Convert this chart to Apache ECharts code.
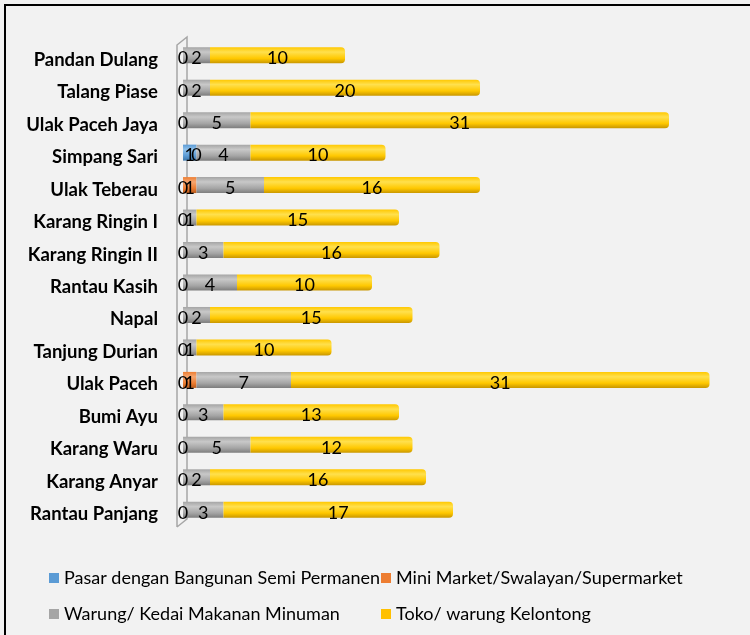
<!doctype html>
<html>
<head>
<meta charset="utf-8">
<script src="https://cdn.jsdelivr.net/npm/echarts@6/dist/echarts.min.js"></script>
<style>
    html, body { margin: 0; padding: 0; background: #f2f2f2; }
    #main { width: 750px; height: 635px; }
</style>
</head>
<body>
<div id="main"></div>
<script type="text/javascript">
    // desa (atas ke bawah)
    var desa = ['Pandan Dulang', 'Talang Piase', 'Ulak Paceh Jaya', 'Simpang Sari', 'Ulak Teberau',
        'Karang Ringin I', 'Karang Ringin II', 'Rantau Kasih', 'Napal', 'Tanjung Durian',
        'Ulak Paceh', 'Bumi Ayu', 'Karang Waru', 'Karang Anyar', 'Rantau Panjang'];

    var pasar    = [0, 0, 0, 1, 0, 0, 0, 0, 0, 0, 0, 0, 0, 0, 0];
    var minimarket = [null, null, null, 0, 1, null, null, null, null, null, 1, null, null, null, null];
    var warung   = [2, 2, 5, 4, 5, 1, 3, 4, 2, 1, 7, 3, 5, 2, 3];
    var toko     = [10, 20, 31, 10, 16, 15, 16, 10, 15, 10, 31, 13, 12, 16, 17];

    var nama = ['Pasar dengan Bangunan Semi Permanen', 'Mini Market/Swalayan/Supermarket',
        'Warung/ Kedai Makanan Minuman', 'Toko/ warung Kelontong'];
    var warnaLegend = ['#5b9bd5', '#ed7d31', '#a5a5a5', '#ffc000'];

    function silinder(terang, tengah, gelap) {
        return new echarts.graphic.LinearGradient(0, 0, 0, 1, [
            {offset: 0, color: tengah},
            {offset: 0.3, color: terang},
            {offset: 0.7, color: tengah},
            {offset: 1, color: gelap}
        ]);
    }

    var labelStyle = {
        show: true,
        position: 'inside',
        offset: [0, 3],
        color: '#000',
        fontFamily: 'Lato',
        fontSize: 18
    };

    function seri(name, data, warna, radius) {
        return {
            name: name,
            type: 'bar',
            stack: 'total',
            barWidth: 16,
            data: data,
            label: labelStyle,
            itemStyle: {color: warna, borderRadius: radius || 0},
            emphasis: {disabled: true}
        };
    }

    var myChart = echarts.init(document.getElementById('main'));
    var legendText = {fontFamily: 'Lato', fontSize: 18, color: '#000'};

    function legenda(i, left, top) {
        return {
            data: [{name: nama[i], itemStyle: {color: warnaLegend[i]}}],
            left: left, top: top,
            itemWidth: 10, itemHeight: 10, itemGap: 6, icon: 'rect',
            textStyle: legendText, selectedMode: false
        };
    }

    myChart.setOption({
        backgroundColor: '#f2f2f2',
        animation: false,
        grid: {left: 183, right: 27, top: 39, bottom: 109},
        legend: [
            legenda(0, 44, 564),
            legenda(1, 376, 564),
            legenda(2, 44, 600),
            legenda(3, 376, 600)
        ],
        xAxis: {
            type: 'value',
            min: 0,
            max: 40,
            show: false
        },
        yAxis: {
            type: 'category',
            inverse: true,
            data: desa,
            axisLine: {show: false},
            axisTick: {show: false},
            axisLabel: {
                margin: 25,
                formatter: '{a|{value}}',
                rich: {
                    a: {
                        padding: [9, 0, 0, 0],
                        color: '#000',
                        fontFamily: 'Lato',
                        fontWeight: 'bold',
                        fontSize: 18.5
                    }
                }
            }
        },
        graphic: [
            // bingkai
            {type: 'polyline', z: 0, shape: {points: [[5, 640], [5, 5], [760, 5]]},
                style: {stroke: '#000', lineWidth: 2, fill: null}},
            // dinding 3D
            {type: 'polyline', z: 0, shape: {points: [[177, 527], [177, 45], [187, 37], [187, 519], [177, 527]]},
                style: {stroke: '#a6a6a6', lineWidth: 1.5, fill: null}}
        ],
        series: [
            seri(nama[0], pasar, silinder('#8fc0ea', '#5b9bd5', '#3d75a8')),
            seri(nama[1], minimarket, silinder('#f6a670', '#ed7d31', '#b85a1c')),
            seri(nama[2], warung, silinder('#c8c8c8', '#a5a5a5', '#7d7d7d')),
            seri(nama[3], toko, silinder('#ffe04d', '#ffc800', '#c99700'), [0, 4, 4, 0])
        ]
    });
</script>
</body>
</html>
